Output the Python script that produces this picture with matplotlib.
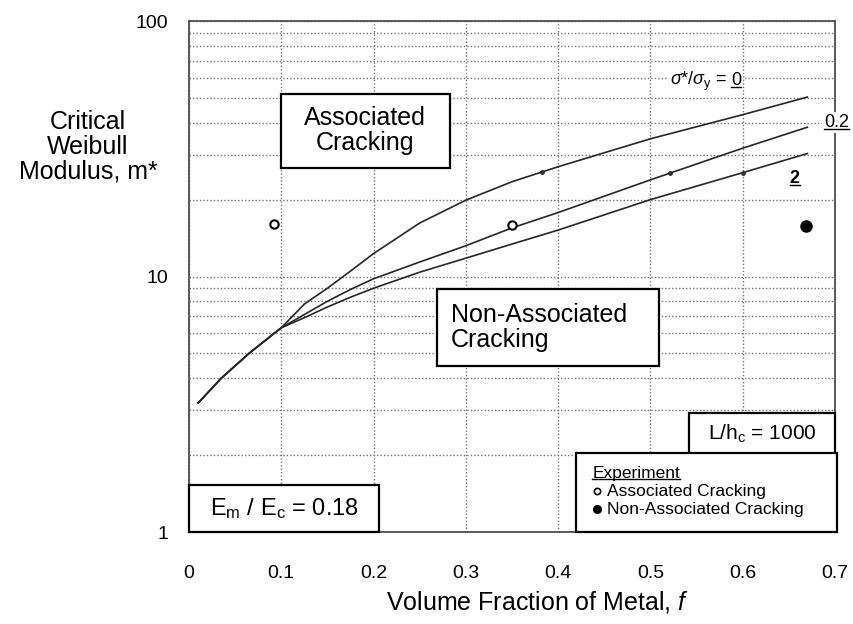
import matplotlib
matplotlib.use("Agg")
import matplotlib.pyplot as plt
from matplotlib.patches import Rectangle
from matplotlib.lines import Line2D
from matplotlib.ticker import LogLocator, NullFormatter, FixedLocator

plt.rcParams['font.family'] = ['Liberation Sans', 'DejaVu Sans']
plt.rcParams['mathtext.fontset'] = 'custom'
plt.rcParams['mathtext.rm'] = 'Liberation Sans'
plt.rcParams['mathtext.it'] = 'Liberation Sans:italic'
plt.rcParams['mathtext.bf'] = 'Liberation Sans:bold'

# model curves, sigma*/sigma_y = 0, 0.2, 2
f_start = [0.01, 0.035, 0.065, 0.09, 0.10]
m_start = [3.2, 4.0, 5.0, 5.9, 6.3]

f_curve = [0.125, 0.15, 0.175, 0.2, 0.25, 0.3, 0.35, 0.4, 0.5, 0.6, 0.67]
m_s0 = [7.8, 9.0, 10.5, 12.3, 16.2, 19.9, 23.5, 26.9, 34.6, 43.0, 50.4]
m_s02 = [7.1, 8.0, 8.9, 9.8, 11.4, 13.2, 15.5, 17.8, 23.9, 31.8, 38.4]
m_s2 = [6.9, 7.6, 8.3, 9.0, 10.4, 11.8, 13.4, 15.2, 20.0, 25.5, 30.3]

# small label ticks on the curves
f_dots = [0.382, 0.521, 0.60]
m_dots = [25.6, 25.5, 25.5]

# experiments
f_assoc = [0.092, 0.35]
m_assoc = [16.0, 15.9]
f_nonassoc = [0.668]
m_nonassoc = [15.8]

x_ticks = [0, 0.1, 0.2, 0.3, 0.4, 0.5, 0.6, 0.7]
x_ticklabels = ['0', '0.1', '0.2', '0.3', '0.4', '0.5', '0.6', '0.7']
y_ticks = [1, 10, 100]
y_ticklabels = ['1', '10', '100']

fig = plt.figure(figsize=(8.54, 6.24), dpi=100)
ax = fig.add_axes([0.2213, 0.1474, 0.7565, 0.8189])
ax.set_yscale('log')
ax.set_xlim(0, 0.7)
ax.set_ylim(1, 100)

grid_kw = dict(color='0.45', linestyle=(0, (1, 1.5)), linewidth=1.0)
ax.xaxis.set_major_locator(FixedLocator(x_ticks))
ax.yaxis.set_major_locator(FixedLocator(y_ticks))
ax.yaxis.set_minor_locator(LogLocator(base=10, subs=range(2, 10)))
ax.yaxis.set_minor_formatter(NullFormatter())
ax.set_xticklabels(x_ticklabels)
ax.set_yticklabels(y_ticklabels)
ax.grid(True, which='major', axis='x', **grid_kw)
ax.grid(True, which='both', axis='y', **grid_kw)
ax.tick_params(which='both', length=0)
ax.tick_params(axis='x', pad=24, labelsize=14)
ax.tick_params(axis='y', pad=15, labelsize=14)
for sp in ax.spines.values():
    sp.set_color('0.3')
    sp.set_linewidth(1.3)

for m_vals in (m_s0, m_s02, m_s2):
    ax.plot(f_start + f_curve, m_start + m_vals, color='0.15', lw=1.2, zorder=3)
ax.plot(f_dots, m_dots, 'o', color='0.2', ms=2.5, zorder=4)

ax.plot(f_assoc, m_assoc, 'o', mfc='white', mec='black', mew=1.5, ms=6, zorder=4)
ax.plot(f_nonassoc, m_nonassoc, 'o', color='black', ms=8, zorder=4)


# boxes in axes fraction
def box(x0, y0, x1, y1):
    r = Rectangle((x0, y0), x1 - x0, y1 - y0, transform=ax.transAxes,
                  facecolor='white', edgecolor='black', lw=1.6,
                  zorder=5, clip_on=False)
    ax.add_patch(r)


box(0.142, 0.712, 0.404, 0.858)
ax.text(0.273, 0.785, 'Associated\nCracking', transform=ax.transAxes,
        ha='center', va='center', fontsize=18, zorder=6, linespacing=1.05)

box(0.384, 0.325, 0.728, 0.476)
ax.text(0.405, 0.400, 'Non-Associated\nCracking', transform=ax.transAxes,
        ha='left', va='center', fontsize=18, zorder=6, linespacing=1.05)

box(0.774, 0.153, 1.0, 0.233)
ax.text(0.887, 0.193, r'L/h$_\mathrm{c}$ = 1000', transform=ax.transAxes,
        ha='center', va='center', fontsize=15, zorder=6)

box(0.599, 0.0, 1.003, 0.155)
t_exp = ax.text(0.624, 0.105, 'Experiment', transform=ax.transAxes,
                ha='left', va='baseline', fontsize=12.5, zorder=6)
ax.plot([0.632], [0.080], 'o', transform=ax.transAxes, mfc='white', mec='black',
        mew=1.2, ms=4.5, zorder=6, clip_on=False)
ax.text(0.647, 0.080, 'Associated Cracking', transform=ax.transAxes,
        ha='left', va='center', fontsize=12.5, zorder=6)
ax.plot([0.632], [0.045], 'o', transform=ax.transAxes, color='black',
        ms=5.5, zorder=6, clip_on=False)
ax.text(0.647, 0.045, 'Non-Associated Cracking', transform=ax.transAxes,
        ha='left', va='center', fontsize=12.5, zorder=6)

box(0.0, 0.0, 0.294, 0.092)
ax.text(0.147, 0.046, r'E$_\mathrm{m}$ / E$_\mathrm{c}$ = 0.18', transform=ax.transAxes,
        ha='center', va='center', fontsize=17, zorder=6)

# curve labels
white = dict(facecolor='white', edgecolor='none', pad=1.5)
t_sig = ax.text(0.521, 56, r'$\sigma$*/$\sigma_\mathrm{y}$ =', ha='left',
                va='baseline', fontsize=13, bbox=white, zorder=6)
t_0 = ax.text(0.592, 56, '0', ha='left', va='baseline', fontsize=13,
              bbox=white, zorder=6)
t_02 = ax.text(0.688, 40, '0.2', ha='left', va='center', fontsize=13,
               bbox=white, zorder=6, clip_on=False)
t_2 = ax.text(0.651, 24.3, '2', ha='left', va='center', fontsize=13,
              fontweight='bold', zorder=6)

fig.text(88 / 854, 1 - 147 / 624, 'Critical\nWeibull\nModulus, m*',
         ha='center', va='center', fontsize=18, linespacing=1.05)
fig.text(537 / 854, 1 - 602 / 624, r'Volume Fraction of Metal, $\mathit{f}$',
         ha='center', va='center', fontsize=18)

# put the "0" right after "sigma*/sigma_y =", then underline a few labels
fig.canvas.draw()
renderer = fig.canvas.get_renderer()
bb = t_sig.get_window_extent(renderer)
x_new = ax.transData.inverted().transform((bb.x1 + 4, 0))[0]
t_0.set_x(x_new)
fig.canvas.draw()

inv = fig.transFigure.inverted()
for t in (t_exp, t_0, t_02, t_2):
    bb = t.get_window_extent(renderer)
    (x0, y0), (x1, _) = inv.transform([(bb.x0, bb.y0 + 2), (bb.x1, bb.y0)])
    fig.add_artist(Line2D([x0, x1], [y0, y0], transform=fig.transFigure,
                          color='black', lw=1.0, zorder=10))

fig.savefig('out.png', dpi=100)
